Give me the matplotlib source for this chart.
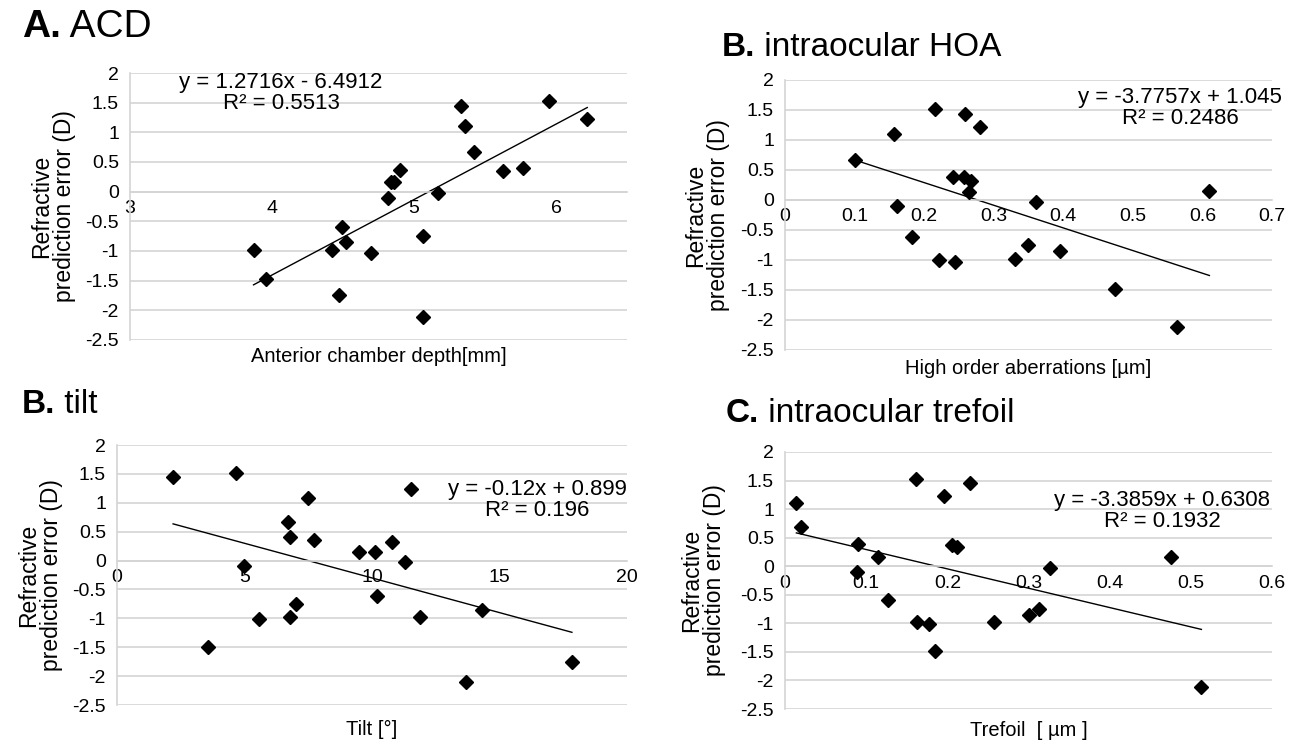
import matplotlib
matplotlib.use('Agg')
import matplotlib.pyplot as plt
import numpy as np

plt.rcParams['font.family'] = ['Liberation Sans', 'DejaVu Sans']

# A. ACD
acd_x = [3.87, 3.96, 4.42, 4.49, 4.52, 4.47, 4.70, 4.82, 4.84, 4.86, 4.90,
         5.06, 5.06, 5.17, 5.33, 5.36, 5.42, 5.63, 5.77, 5.95, 6.22]
acd_y = [-0.98, -1.48, -0.98, -0.60, -0.84, -1.75, -1.03, -0.11, 0.16, 0.16, 0.37,
         -0.74, -2.11, -0.03, 1.45, 1.11, 0.67, 0.34, 0.40, 1.52, 1.22]

# B. intraocular HOA
hoa_x = [0.101, 0.156, 0.161, 0.183, 0.216, 0.221, 0.242, 0.245, 0.258, 0.259,
         0.267, 0.264, 0.280, 0.330, 0.349, 0.361, 0.395, 0.474, 0.564, 0.610]
hoa_y = [0.66, 1.10, -0.10, -0.61, 1.51, -1.00, 0.39, -1.03, 0.39, 1.44,
         0.32, 0.14, 1.22, -0.99, -0.75, -0.03, -0.85, -1.49, -2.12, 0.15]

# B. tilt
tilt_x = [2.20, 3.57, 4.68, 4.98, 5.58, 6.70, 6.78, 6.78, 7.00, 7.50, 7.71,
          9.50, 10.10, 10.21, 10.79, 11.30, 11.51, 11.89, 13.67, 14.31, 17.84]
tilt_y = [1.44, -1.49, 1.52, -0.10, -1.02, 0.67, 0.40, -0.98, -0.75, 1.09, 0.36,
          0.15, 0.15, -0.62, 0.32, -0.03, 1.23, -0.97, -2.10, -0.85, -1.76]

# C. intraocular trefoil
tref_x = [0.014, 0.020, 0.090, 0.089, 0.115, 0.127, 0.162, 0.163, 0.177, 0.185,
          0.196, 0.206, 0.212, 0.228, 0.257, 0.300, 0.313, 0.326, 0.476, 0.513]
tref_y = [1.10, 0.68, 0.39, -0.10, 0.16, -0.60, 1.52, -0.97, -1.02, -1.49,
          1.23, 0.38, 0.34, 1.46, -0.97, -0.85, -0.75, -0.03, 0.16, -2.11]

# trendline coefficients (slope, intercept) and the printed equation
acd_fit = (1.2716, -6.4912, 'y = 1.2716x - 6.4912\nR² = 0.5513')
hoa_fit = (-3.7757, 1.045, 'y = -3.7757x + 1.045\nR² = 0.2486')
tilt_fit = (-0.12, 0.899, 'y = -0.12x + 0.899\nR² = 0.196')
tref_fit = (-3.3859, 0.6308, 'y = -3.3859x + 0.6308\nR² = 0.1932')

W, H = 1298, 743
fig = plt.figure(figsize=(W / 100, H / 100), dpi=100)
GRID = '#d4d4d4'


def px_axes(left, right, top, bottom):
    return fig.add_axes([left / W, 1 - bottom / H, (right - left) / W, (bottom - top) / H])


def plotPanel(ax, x, y, fit, xlim, xstep, xlabel, xlabel_px, eq_pos, ylabel_px):
    ax.plot(x, y, 'D', color='black', markersize=7, zorder=3)
    slope, intercept, eq = fit
    xs = np.array([min(x), max(x)])
    ax.plot(xs, slope * xs + intercept, color='black', linewidth=1, zorder=2)

    ax.set_xlim(*xlim)
    ax.set_ylim(-2.5, 2)
    ax.set_yticks(np.arange(-2.5, 2.01, 0.5))
    ax.set_xticks(np.arange(xlim[0], xlim[1] + 1e-9, xstep))
    ax.xaxis.set_major_formatter(plt.FuncFormatter(lambda v, p: f'{round(v, 3):g}'))
    ax.yaxis.set_major_formatter(plt.FuncFormatter(lambda v, p: f'{round(v, 3):g}'))
    ax.tick_params(length=0, labelsize=14)
    ax.tick_params(axis='x', pad=6)
    ax.tick_params(axis='y', pad=8)

    ax.grid(axis='y', color=GRID, linewidth=1.2)
    ax.set_axisbelow(True)
    for s in ['top', 'right']:
        ax.spines[s].set_visible(False)
    ax.spines['left'].set_color(GRID)
    ax.spines['left'].set_linewidth(1.2)
    ax.spines['bottom'].set_position(('data', 0))
    ax.spines['bottom'].set_color(GRID)
    ax.spines['bottom'].set_linewidth(1.2)

    # label positions given in figure pixels
    pos = ax.get_position()
    left_px, bottom_px = pos.x0 * W, (1 - pos.y0) * H
    w_px, h_px = pos.width * W, pos.height * H

    ax.set_xlabel(xlabel, fontsize=14.5, va='center')
    ax.xaxis.set_label_coords(0.5, -(xlabel_px - bottom_px) / h_px)
    ax.set_ylabel('Refractive\nprediction error (D)', fontsize=16.5, linespacing=1.0)
    ax.yaxis.set_label_coords((ylabel_px - left_px) / w_px, 0.5)

    fig.text(eq_pos[0] / W, 1 - eq_pos[1] / H, eq, fontsize=16, ha='center', va='center',
             linespacing=1.0)


def title(ax, xp, baseline, bold, rest, size=24):
    t = fig.text(xp / W, 1 - baseline / H, bold, fontsize=size, fontweight='bold', va='baseline')
    ax.annotate(rest, xy=(1, 0), xycoords=t, fontsize=size, va='bottom', ha='left',
                annotation_clip=False)


ax1 = px_axes(130, 627, 73, 340)
plotPanel(ax1, acd_x, acd_y, acd_fit, (3, 6.5), 1, 'Anterior chamber depth[mm]', 356,
          (281, 93), 76)
ax1.set_xticks([3, 4, 5, 6])

ax2 = px_axes(785, 1272, 80, 350)
plotPanel(ax2, hoa_x, hoa_y, hoa_fit, (0, 0.7), 0.1, 'High order aberrations [µm]', 368,
          (1180, 108), 730)

ax3 = px_axes(117, 627, 445, 705)
plotPanel(ax3, tilt_x, tilt_y, tilt_fit, (0, 20), 5, 'Tilt [°]', 729, (537, 500), 63)

ax4 = px_axes(785, 1272, 452, 709)
plotPanel(ax4, tref_x, tref_y, tref_fit, (0, 0.6), 0.1, 'Trefoil  [ µm ]', 730,
          (1162, 511), 726)

title(ax1, 22, 37, 'A.', ' ACD', size=28)
title(ax2, 722, 56, 'B.', ' intraocular HOA')
title(ax3, 22, 413, 'B.', ' tilt')
title(ax4, 726, 422, 'C.', ' intraocular trefoil')

fig.savefig('out.png', dpi=100)
